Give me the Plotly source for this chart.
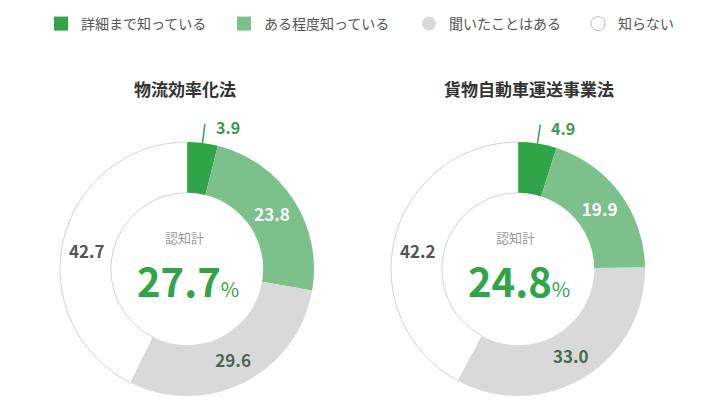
import math
import plotly.graph_objects as go

# 認知度調査（%）
categories = ['詳細まで知っている', 'ある程度知っている', '聞いたことはある', '知らない']
law_names = ['物流効率化法', '貨物自動車運送事業法']
law1_values = [3.9, 23.8, 29.6, 42.7]
law2_values = [4.9, 19.9, 33.0, 42.2]

colors = ['#2fa548', '#7cc08b', '#d9d9d9', '#ffffff']
label_colors = ['#3a9c4c', '#ffffff', '#48694f', '#555555']
FONT = 'Noto Sans CJK JP'

W, H = 720, 405
R = 127
centers = [(187, 269), (518, 269)]
title_shift = [-2, 11]


def paper(x, y):
    return x / W, (H - y) / H


fig = go.Figure()

for i, (name, vals) in enumerate(zip(law_names, [law1_values, law2_values])):
    cx, cy = centers[i]
    # 1st slice label goes outside with a leader line, last one sits upper-left
    texts = [''] + [f'{v:.1f}' for v in vals[1:3]] + ['']
    fig.add_trace(go.Pie(
        labels=categories,
        values=vals,
        text=texts,
        textinfo='text',
        textposition='inside',
        insidetextorientation='horizontal',
        textfont=dict(color=label_colors, size=17, family=FONT, weight='bold'),
        hole=0.6,
        sort=False,
        direction='clockwise',
        rotation=0,
        marker=dict(colors=colors, line=dict(color='#c8c8c8', width=[0, 0, 0, 0.8])),
        domain=dict(x=[(cx - R) / W, (cx + R) / W], y=[(H - cy - R) / H, (H - cy + R) / H]),
        showlegend=False,
        hoverinfo='label+value',
    ))

    # leader line for the small first slice
    ang = math.radians(vals[0] / 2 / sum(vals) * 360)
    x0, y0 = cx + R * math.sin(ang), cy - R * math.cos(ang)
    x1, y1 = cx + (R + 19) * math.sin(ang), cy - (R + 19) * math.cos(ang)
    p0, p1 = paper(x0, y0), paper(x1, y1)
    fig.add_shape(type='line', xref='paper', yref='paper', x0=p0[0], y0=p0[1], x1=p1[0], y1=p1[1],
                  line=dict(color=label_colors[0], width=1.5))
    lx, ly = paper(x1 + 9, y1 + 3)
    fig.add_annotation(x=lx, y=ly, xref='paper', yref='paper', xanchor='left', yanchor='middle',
                       text=f'<b>{vals[0]:.1f}</b>', showarrow=False,
                       font=dict(size=16, color=label_colors[0], family=FONT))

    ax_, ay_ = paper(cx - 100, 250)
    fig.add_annotation(x=ax_, y=ay_, xref='paper', yref='paper', xanchor='center', yanchor='middle',
                       text=f'<b>{vals[3]:.1f}</b>', showarrow=False,
                       font=dict(size=17, color=label_colors[3], family=FONT))
    sx, sy = paper(cx - 3, 237)
    fig.add_annotation(x=sx, y=sy, xref='paper', yref='paper', xanchor='center', yanchor='middle',
                       text='認知計', showarrow=False,
                       font=dict(size=13, color='#9a9a9a', family=FONT))
    total = vals[0] + vals[1]
    tx, ty = paper(cx + 1, 280)
    fig.add_annotation(x=tx, y=ty, xref='paper', yref='paper', xanchor='center', yanchor='middle',
                       text=f'<b>{total:.1f}</b><span style="font-size:20px">%</span>',
                       showarrow=False,
                       font=dict(size=40, color='#2fa548', family=FONT))
    hx, hy = paper(cx + title_shift[i], 88)
    fig.add_annotation(x=hx, y=hy, xref='paper', yref='paper', xanchor='center', yanchor='middle',
                       text=f'<b>{name}</b>', showarrow=False,
                       font=dict(size=17, color='#333333', family=FONT))

# legend: one small legend per entry so the spacing matches
symbols = ['square', 'square', 'circle', 'circle']
legend_x = [54, 237, 422, 591]
legend_ids = ['legend', 'legend2', 'legend3', 'legend4']
legend_layout = {}
for cat, col, sym, lx, lid in zip(categories, colors, symbols, legend_x, legend_ids):
    fig.add_trace(go.Scatter(
        x=[None], y=[None], mode='markers', name=cat, legend=lid,
        marker=dict(color=col, symbol=sym, size=14,
                    line=dict(color='#bdbdbd', width=1 if col == '#ffffff' else 0)),
    ))
    legend_layout[lid] = dict(x=(lx - 13) / W, y=(H - 24) / H, xanchor='left', yanchor='middle',
                              orientation='h', itemwidth=30, bgcolor='rgba(0,0,0,0)',
                              font=dict(size=14, color='#555555', family=FONT))

fig.update_layout(
    width=W, height=H,
    margin=dict(l=0, r=0, t=0, b=0),
    paper_bgcolor='white',
    plot_bgcolor='white',
    xaxis=dict(visible=False),
    yaxis=dict(visible=False),
    font=dict(family=FONT),
    **legend_layout,
)

fig.write_html('out.html', config={'displayModeBar': False},
               post_script="document.body.style.margin='0px';")
